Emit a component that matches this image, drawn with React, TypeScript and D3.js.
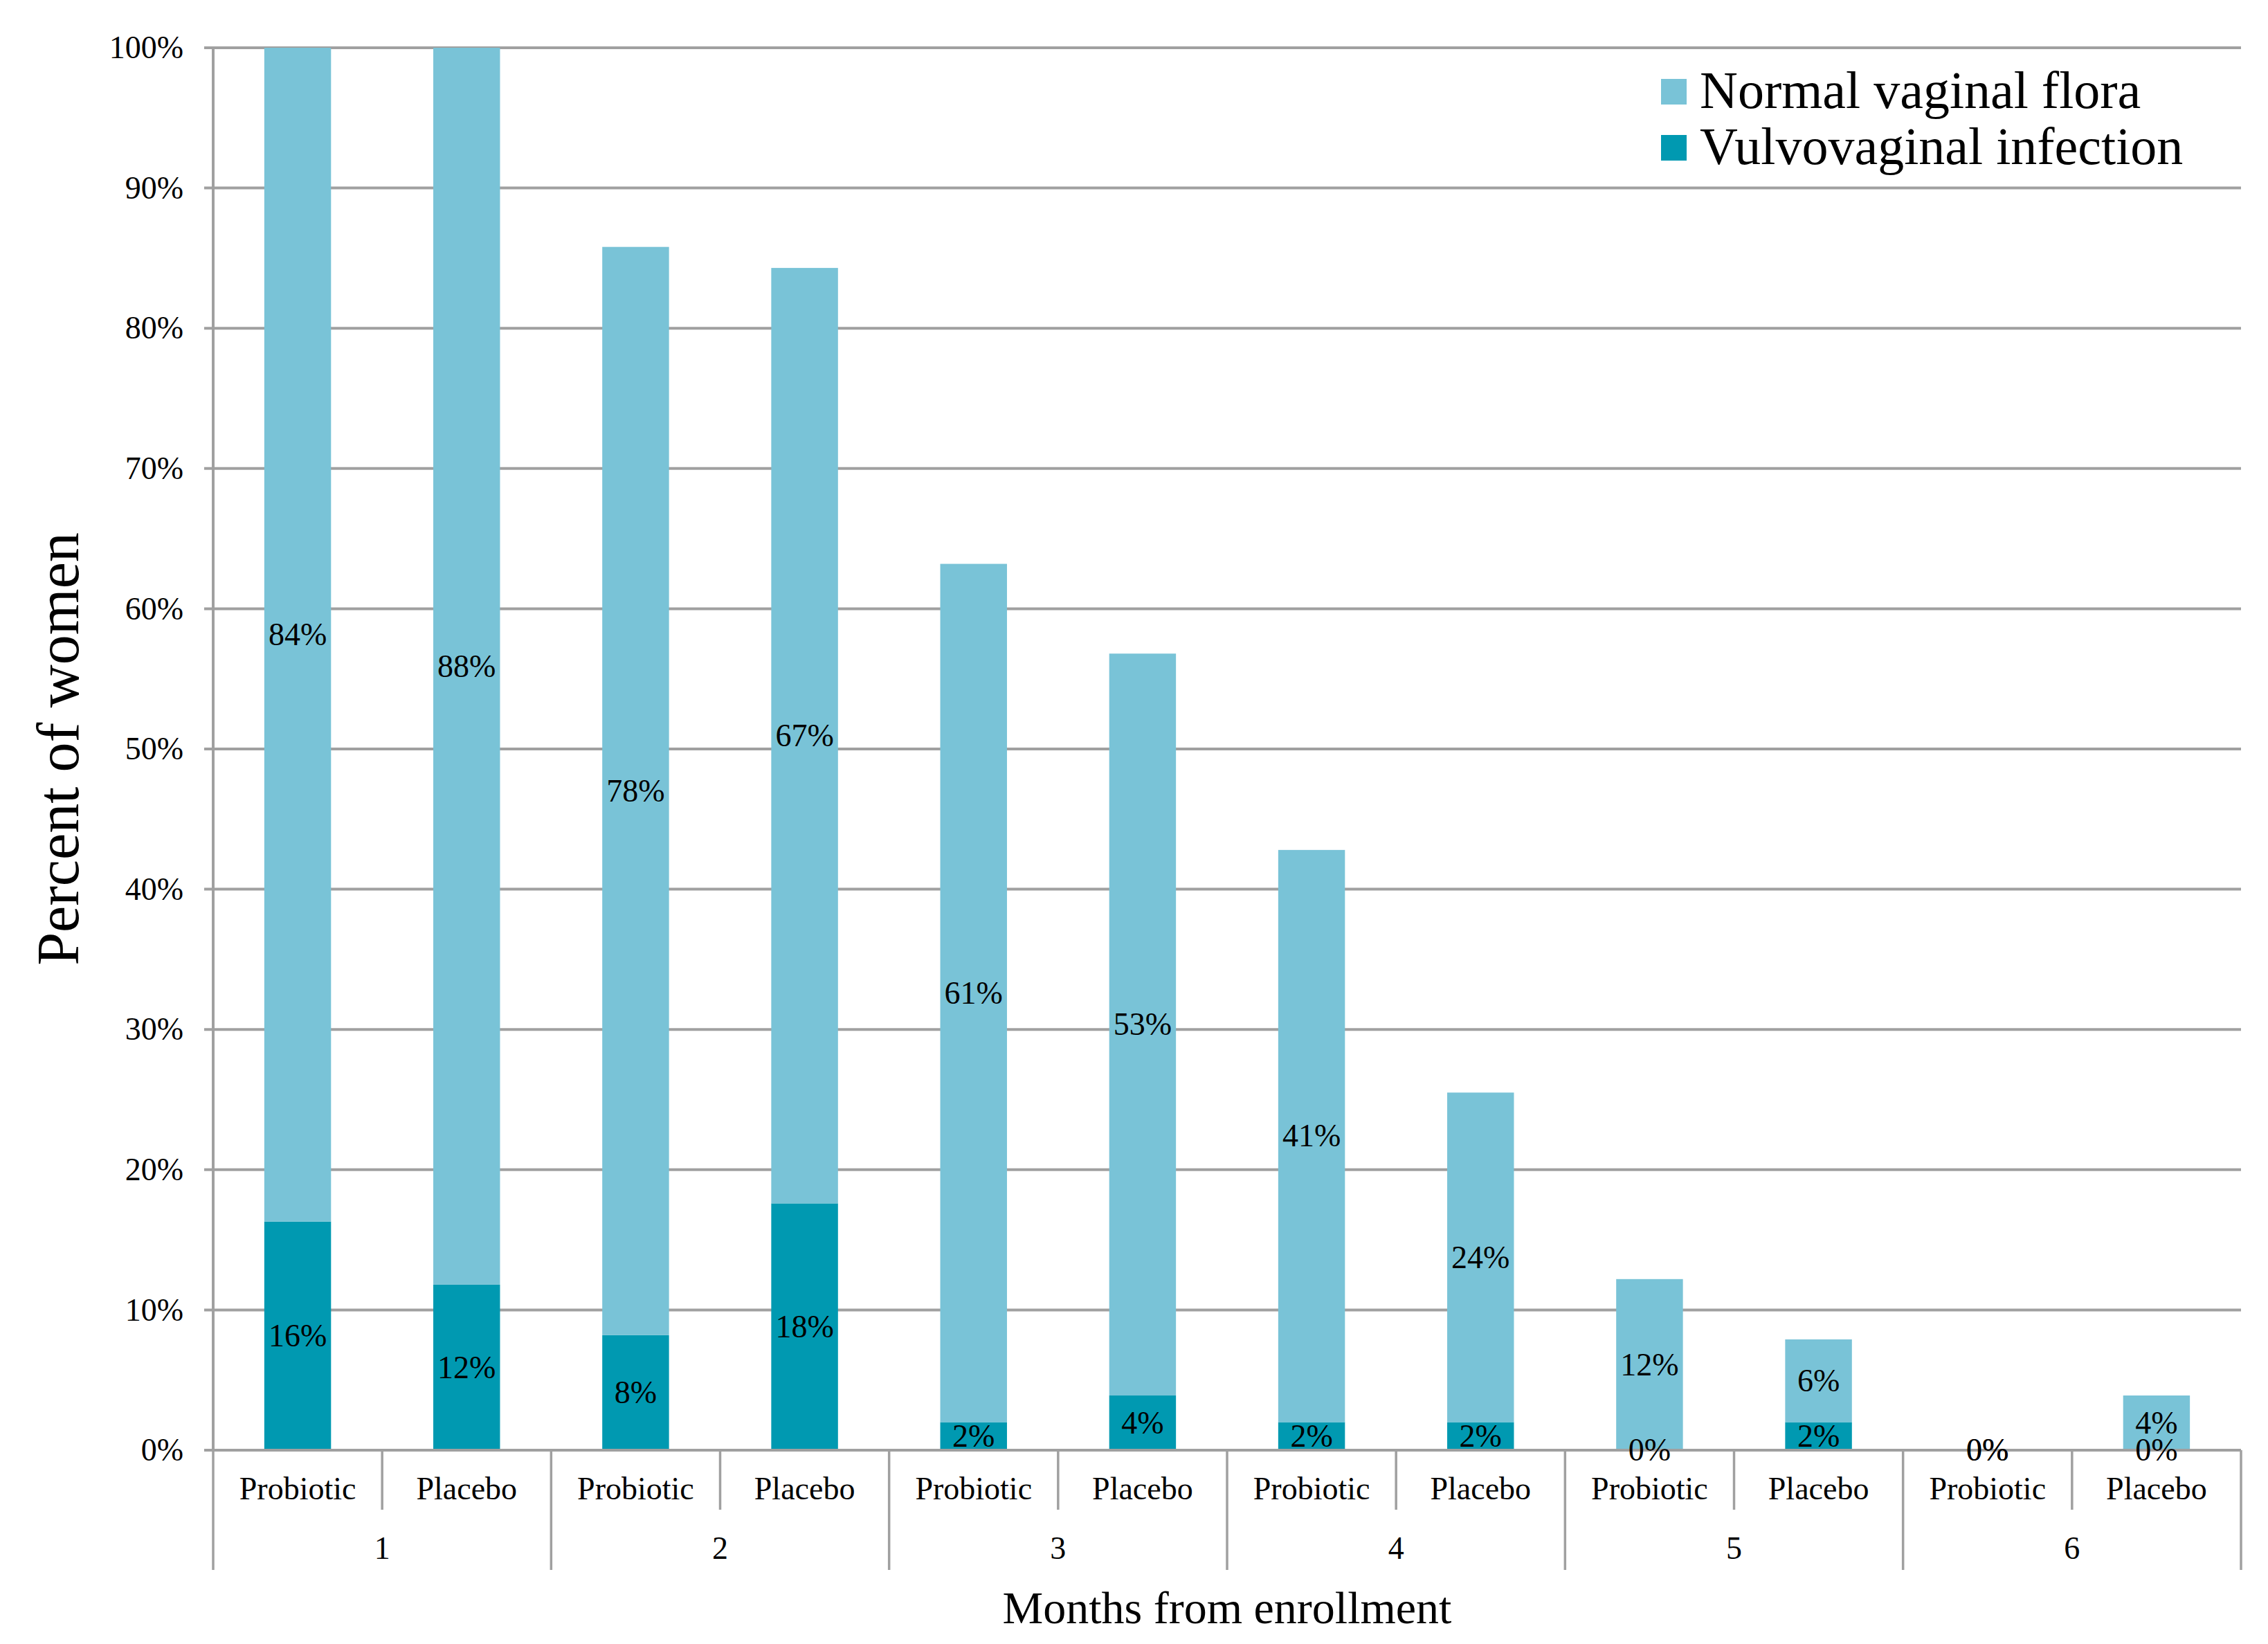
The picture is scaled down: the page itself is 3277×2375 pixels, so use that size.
import { useEffect, useRef } from "react"
import * as d3 from "d3"

// months and arms, one bar per (month, arm)
const months = ["1", "2", "3", "4", "5", "6"]
const arms = ["Probiotic", "Placebo"]

// percent of women, in bar order (P1, Pl1, P2, Pl2, ...)
const normalFlora = [83.7, 88.2, 77.6, 66.7, 61.2, 52.9, 40.8, 23.5, 12.2, 5.9, 0, 3.9]
const infection = [16.3, 11.8, 8.2, 17.6, 2.0, 3.9, 2.0, 2.0, 0, 2.0, 0, 0]

const yTicks = [0, 10, 20, 30, 40, 50, 60, 70, 80, 90, 100]

const seriesNames = ["Normal vaginal flora", "Vulvovaginal infection"]
const colors = { normal: "#79C3D7", infection: "#0099B1" }

export default function App() {
    const ref = useRef<SVGSVGElement>(null)

    useEffect(() => {
        const W = 3277
        const H = 2375
        const left = 308
        const right = 3238
        const top = 69
        const bottom = 2095
        const font = "'Liberation Serif', 'Times New Roman', serif"
        const lineColor = "#A0A0A0"

        const svg = d3.select(ref.current)
        svg.selectAll("*").remove()
        svg.attr("width", W).attr("height", H).attr("viewBox", `0 0 ${W} ${H}`)
            .style("font-family", font)

        const cats = months.flatMap(m => arms.map(a => `${m}-${a}`))
        const x = d3.scaleBand().domain(cats).range([left, right]).paddingInner(0.605).paddingOuter(0.3025)
        const step = x.step()
        const y = d3.scaleLinear().domain([0, 100]).range([bottom, top])

        svg.append("rect").attr("width", W).attr("height", H).attr("fill", "white")

        // gridlines + y ticks
        const grid = svg.append("g").attr("stroke", lineColor).attr("stroke-width", 4)
        yTicks.forEach(t => {
            grid.append("line")
                .attr("x1", left - 13).attr("x2", right)
                .attr("y1", y(t)).attr("y2", y(t))
        })

        // stacked bars
        const bars = svg.append("g")
        cats.forEach((c, i) => {
            const x0 = x(c)!
            const inf = infection[i]
            const nor = normalFlora[i]
            bars.append("rect")
                .attr("x", x0).attr("width", x.bandwidth())
                .attr("y", y(inf)).attr("height", y(0) - y(inf))
                .attr("fill", colors.infection)
            bars.append("rect")
                .attr("x", x0).attr("width", x.bandwidth())
                .attr("y", y(inf + nor)).attr("height", y(inf) - y(inf + nor))
                .attr("fill", colors.normal)
        })

        // axes lines
        const axes = svg.append("g").attr("stroke", lineColor).attr("stroke-width", 4)
        axes.append("line").attr("x1", left).attr("x2", left).attr("y1", top - 2).attr("y2", bottom)
        axes.append("line").attr("x1", left).attr("x2", right).attr("y1", bottom).attr("y2", bottom)
        for (let i = 0; i <= cats.length; i++) {
            const xi = left + i * step
            const len = i % 2 === 0 ? 173 : 86
            axes.append("line").attr("x1", xi).attr("x2", xi)
                .attr("y1", bottom).attr("y2", bottom + len)
                .attr("stroke-width", 3.5)
        }

        // y tick labels
        const yl = svg.append("g").attr("font-size", 46).attr("text-anchor", "end")
        yTicks.forEach(t => {
            yl.append("text").attr("x", 265).attr("y", y(t)).attr("dy", "0.33em").text(`${t}%`)
        })

        // data labels
        const dl = svg.append("g").attr("font-size", 46).attr("text-anchor", "middle")
        cats.forEach((c, i) => {
            const cx = x(c)! + x.bandwidth() / 2
            const inf = infection[i]
            const nor = normalFlora[i]
            dl.append("text").attr("x", cx).attr("y", y(inf / 2)).attr("dy", "0.33em")
                .text(`${Math.round(inf)}%`)
            dl.append("text").attr("x", cx).attr("y", y(inf + nor / 2)).attr("dy", "0.33em")
                .text(`${Math.round(nor)}%`)
        })

        // category labels
        const cl = svg.append("g").attr("font-size", 46).attr("text-anchor", "middle")
        cats.forEach((c, i) => {
            cl.append("text").attr("x", x(c)! + x.bandwidth() / 2).attr("y", 2166).text(arms[i % 2])
        })
        months.forEach((m, i) => {
            cl.append("text").attr("x", left + (i * 2 + 1) * step).attr("y", 2252).text(m)
        })

        // titles
        svg.append("text").attr("x", (left + right) / 2).attr("y", 2345)
            .attr("text-anchor", "middle").attr("font-size", 66).text("Months from enrollment")
        svg.append("text").attr("transform", `translate(113, ${(top + bottom) / 2}) rotate(-90)`)
            .attr("text-anchor", "middle").attr("font-size", 86).text("Percent of women")

        // legend
        const lg = svg.append("g")
        const legendColors = [colors.normal, colors.infection]
        seriesNames.forEach((s, i) => {
            lg.append("rect").attr("x", 2400).attr("y", 114 + i * 81).attr("width", 37).attr("height", 37)
                .attr("fill", legendColors[i])
            lg.append("text").attr("x", 2456).attr("y", 156 + i * 81).attr("font-size", 76).text(s)
        })
    }, [])

    return (
        <svg ref={ref} style={{ position: "absolute", left: 0, top: 0 }}></svg>
    )
}
